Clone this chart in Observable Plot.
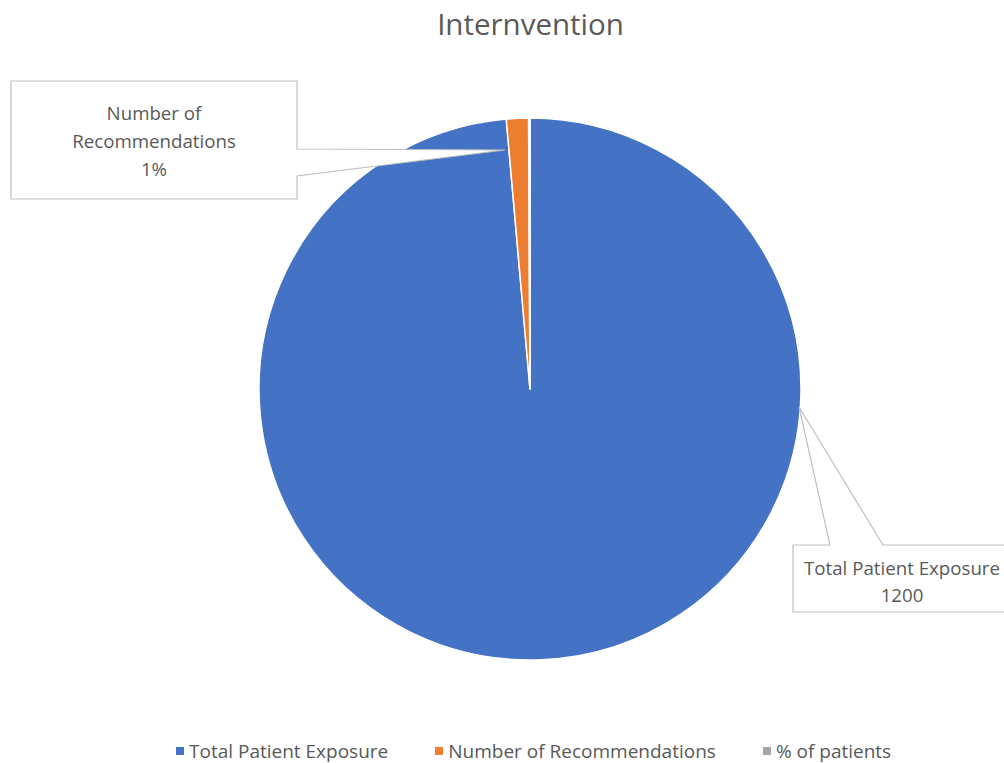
<!DOCTYPE html>
<html><head><meta charset="utf-8">
<script src="https://cdn.jsdelivr.net/npm/d3@7"></script>
<script src="https://cdn.jsdelivr.net/npm/@observablehq/plot@0.6"></script>
<style>
html,body{margin:0;padding:0;background:#fff;}
#chart{position:relative;width:1004px;height:763px;overflow:hidden;font-family:"Open Sans",sans-serif;}
#legend{position:absolute;left:0;top:734px;width:1004px;}
.lg-swatches{justify-content:flex-start;padding-left:176px;flex-wrap:nowrap !important;}
.lg-swatch{margin-right:47px !important;white-space:nowrap;}
.lg-swatch > svg{margin-right:5px !important;}
</style></head><body><div id="chart"><div id="legend"></div></div>
<script>
const title = "Internvention";
const categories = ["Total Patient Exposure", "Number of Recommendations", "% of patients"];
const values = [1200, 16, 1];
const colors = ["#4472C4", "#ED7D31", "#A5A5A5"];

const data = categories.map((name, i) => ({name, value: values[i]}));
const total = d3.sum(values);
const color = Plot.scale({color: {type: "ordinal", domain: categories, range: colors}});

// callout layout (pixels)
const callouts = [
  {cat: 1, kind: "percent", box: [11, 81, 297, 199], notch: {side: "right", a: 149, b: 176}, tip: [505, 150], cx: 154, lines: [120, 148, 176]},
  {cat: 0, kind: "value", box: [793, 545, 1012, 612], notch: {side: "top", a: 830, b: 883}, tip: [799, 407], cx: 902, lines: [575, 602]}
];

function pieMark(index, scales, vals, dims) {
  const NS = "http://www.w3.org/2000/svg";
  const g = d3.select(document.createElementNS(NS, "g"));
  const cx = scales.x ? scales.x(0) : 530;
  const cy = scales.y ? scales.y(0) : 389;
  const r = scales.x ? Math.abs(scales.x(1) - scales.x(0)) : 271;
  const arcs = d3.pie().sort(null).value(d => d.value).startAngle(0).endAngle(2 * Math.PI)(data);
  const arc = d3.arc().innerRadius(0).outerRadius(r);
  g.append("g").attr("transform", `translate(${cx},${cy})`)
    .selectAll("path").data(arcs).join("path")
    .attr("d", arc)
    .attr("fill", d => color.apply(d.data.name))
    .attr("stroke", "#fff").attr("stroke-width", 1.5).attr("stroke-linejoin", "round");
  // callouts
  for (const c of callouts) {
    const [x0, y0, x1, y1] = c.box;
    let pts;
    if (c.notch.side === "right") {
      pts = [[x0, y0], [x1, y0], [x1, c.notch.a], c.tip, [x1, c.notch.b], [x1, y1], [x0, y1]];
    } else {
      pts = [[x0, y0], [c.notch.a, y0], c.tip, [c.notch.b, y0], [x1, y0], [x1, y1], [x0, y1]];
    }
    g.append("path").attr("d", "M" + pts.map(p => p.join(",")).join("L") + "Z")
      .attr("fill", "#fff").attr("stroke", "#BFBFBF").attr("stroke-width", 1.2);
    const d = data[c.cat];
    const words = d.name.split(" ");
    let texts;
    if (c.kind === "percent") {
      texts = [words.slice(0, 2).join(" "), words.slice(2).join(" "), Math.round(d.value / total * 100) + "%"];
    } else {
      texts = [d.name, String(d.value)];
    }
    texts.forEach((t, i) => {
      g.append("text").attr("x", c.cx).attr("y", c.lines[i]).attr("text-anchor", "middle")
        .attr("font-size", 18.7).attr("fill", "#595959").text(t);
    });
  }
  return g.node();
}

const plot = Plot.plot({
  width: 1004,
  height: 725,
  margin: 0,
  style: {fontFamily: "'Open Sans', sans-serif", background: "#fff", overflow: "visible"},
  x: {domain: [-1, 1], range: [259, 801], axis: null},
  y: {domain: [-1, 1], range: [660, 118], axis: null},
  marks: [
    pieMark,
    Plot.text([title], {frameAnchor: "top", dx: 28, dy: 14, lineAnchor: "top", fontSize: 29.5, fill: "#595959"})
  ]
});
document.getElementById("chart").prepend(plot);

const legend = Plot.legend({
  color: {type: "ordinal", domain: categories, range: colors},
  swatchSize: 8,
  className: "lg",
  style: {fontSize: "19px", color: "#595959", fontFamily: "'Open Sans', sans-serif"}
});
document.getElementById("legend").appendChild(legend);
</script>
</body></html>
